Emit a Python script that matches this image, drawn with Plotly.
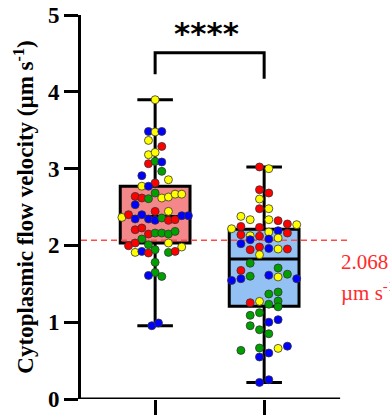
import numpy as np
import plotly.graph_objects as go

# Flow velocities (µm/s), one dot per measurement; colour = replicate
ctrl_vals = [
    3.897, 3.484, 3.477, 3.484, 3.367, 3.289, 3.181, 3.211, 3.064, 3.094,
    3.086, 2.964, 2.908, 2.855, 2.813, 2.771, 2.771, 2.638, 2.617, 2.608,
    2.682, 2.617, 2.630, 2.667, 2.667, 2.530, 2.443, 2.443, 2.365, 2.400,
    2.344, 2.400, 2.344, 2.326, 2.357, 2.326, 2.335, 2.387, 2.387, 2.204,
    2.227, 2.148, 2.161, 2.161, 2.148, 2.182, 2.083, 1.996, 2.031, 2.009,
    2.031, 1.979, 1.909, 1.922, 1.901, 1.944, 1.909, 1.922, 1.779, 1.648,
    1.609, 1.596, 0.954, 0.990,
]
ctrl_reps = list(
    "YBYBYRYYRGBGBYRYBRRGGYYYYBRYYRBBBBGRRBBRRRGGGGGRRGYYYBRGGRGGBGBB"
)

treat_vals = [
    3.021, 2.999, 2.725, 2.682, 2.604, 2.478, 2.478, 2.378, 2.335, 2.335,
    2.322, 2.279, 2.270, 2.217, 2.247, 2.234, 2.139, 2.126, 2.120, 2.174,
    2.191, 2.161, 2.022, 2.074, 2.083, 2.096, 1.944, 1.979, 1.961, 1.953,
    1.953, 1.879, 1.768, 1.674, 1.706, 1.544, 1.566, 1.599, 1.612, 1.589,
    1.625, 1.566, 1.367, 1.393, 1.254, 1.271, 1.234, 1.276, 1.200, 1.089,
    1.124, 1.000, 1.033, 0.954, 0.902, 0.850, 0.633, 0.664, 0.659, 0.688,
    0.547, 0.599, 0.216, 0.251,
]
treat_reps = list(
    "RYRRYRYYYYRRYYRRRYRYBRBBBYRRBYRYGRGBBGBYGBGGRYGGGGGBBGGGGGYBBBBB"
)

# Dot-plot column slots (scatter spread around each box centre)
ctrl_slots = [
    0, -1, 0, 1, -1, 1, -1, 0, -1, 0, 1, 1, -2, 2, 0, -2, -1, -3, -2, -1,
    0, 1, 2, 3, 4, -3, 0, 2, -5, -4, -3, -2, -1, 0, 1, 2, 3, 4, 5, -3,
    -2, -1, 0, 1, 2, 3, -2, -4, -3, -1, 2, 4, -3, -2, -1, 0, 2, 3, 0, 0,
    -1, 1, -0.5, 0.5,
]
treat_slots = [
    -0.5, 0.5, -0.5, 0.5, -0.5, -0.5, 0.5, -2.5, -1.5, 0.5, 1.5, 2.5, 3.5,
    -3.5, -2.5, -0.5, -2.5, -1.5, -0.5, 0.5, 1.5, 2.5, -2.5, -1.5, 0.5, 1.5,
    -1.5, -0.5, 0.5, 1.5, 2.5, -0.5, -1.5, -2.5, 1.5, -3.5, -2.5, -1.5, 0.5,
    1.5, 2.5, 3.5, 0.5, 1.5, -1.5, -0.5, 0.5, 1.5, 1.5, -1.5, -0.5, 0.5, 1.5,
    -1.5, -0.5, 0.5, -2.5, -0.5, 1.5, 2.5, -0.5, 0.5, -0.5, 0.5,
]

threshold = 2.068
significance = "****"

rep_colors = {"R": "#FF0000", "Y": "#FFFF00", "G": "#00A000", "B": "#0000FF"}
SERIF = "Liberation Serif"

groups = [
    dict(pos=0, vals=ctrl_vals, reps=ctrl_reps, slots=ctrl_slots,
         step=0.061, fill="#F4878A"),
    dict(pos=1, vals=treat_vals, reps=treat_reps, slots=treat_slots,
         step=0.0853, fill="#94C1F4"),
]

fig = go.Figure()

# Box-and-whisker (quartiles, min-max whiskers)
for g in groups:
    v = np.asarray(g["vals"])
    q1, med, q3 = np.percentile(v, [25, 50, 75], method="weibull")
    fig.add_trace(go.Box(
        x=[g["pos"]], q1=[q1], median=[med], q3=[q3],
        lowerfence=[v.min()], upperfence=[v.max()],
        width=0.64, whiskerwidth=0.51,
        fillcolor=g["fill"], line=dict(color="black", width=3),
        boxpoints=False, showlegend=False, hoverinfo="skip",
    ))

# Reference velocity
fig.add_trace(go.Scatter(
    x=[-0.68, 1.76], y=[threshold, threshold], mode="lines",
    line=dict(color="#FF4A4A", width=1.5, dash="6px,4px"),
    showlegend=False, hoverinfo="skip",
))

# Individual measurements
for g in groups:
    xs = [g["pos"] + s * g["step"] for s in g["slots"]]
    fig.add_trace(go.Scatter(
        x=xs, y=g["vals"], mode="markers",
        marker=dict(size=8, color=[rep_colors[r] for r in g["reps"]],
                    line=dict(color="#333333", width=0.8)),
        showlegend=False, cliponaxis=False,
    ))

# Significance bracket
fig.add_trace(go.Scatter(
    x=[0, 0, 1, 1], y=[4.23, 4.51, 4.51, 4.17], mode="lines",
    line=dict(color="black", width=3), showlegend=False, hoverinfo="skip",
))
fig.add_annotation(
    x=0.47, y=4.77, text=f"<b>{significance}</b>", showarrow=False,
    font=dict(family="DejaVu Sans", size=31, color="black"),
)

# Label for the reference line
fig.add_annotation(
    x=1.688, y=1.79, xanchor="left", text=f"{threshold:.3f}",
    showarrow=False, font=dict(family=SERIF, size=21, color="#FF2A2A"),
)
fig.add_annotation(
    x=1.688, y=1.40, xanchor="left", text="µm s<sup>-1</sup>",
    showarrow=False, font=dict(family=SERIF, size=21, color="#FF2A2A"),
)

# x baseline stops short of the dashed line's end
fig.add_shape(type="line", x0=-0.68, x1=1.697, y0=0, y1=0,
              line=dict(color="black", width=3), layer="above")

fig.update_layout(
    width=390, height=415,
    margin=dict(l=81, r=43, t=15, b=16),
    plot_bgcolor="white", paper_bgcolor="white",
    xaxis=dict(
        range=[-0.68, 1.76], tickvals=[0, 1], showticklabels=False,
        ticks="outside", ticklen=16, tickwidth=3, tickcolor="black",
        showline=False, showgrid=False, zeroline=False, automargin=False,
    ),
    yaxis=dict(
        range=[0, 5], tickvals=[0, 1, 2, 3, 4, 5],
        ticks="outside", ticklen=14, tickwidth=3, tickcolor="black",
        showline=True, linewidth=3, linecolor="black",
        showgrid=False, zeroline=False, automargin=False,
        tickfont=dict(family=SERIF, size=23, color="black", weight="bold"),
        title=dict(
            text="Cytoplasmic flow velocity (µm s<sup>-1</sup>)",
            font=dict(family=SERIF, size=23, color="black", weight="bold"),
            standoff=8,
        ),
    ),
)

fig.write_html("out.html")
